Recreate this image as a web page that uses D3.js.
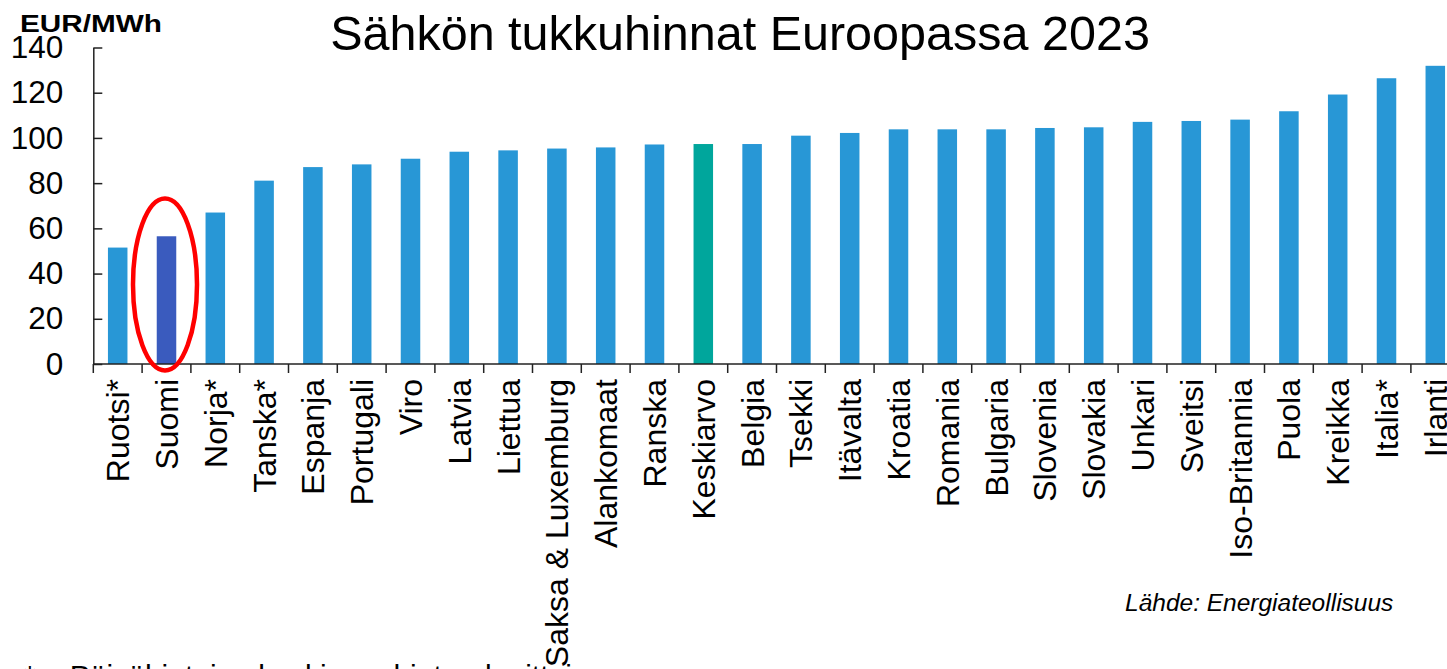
<!DOCTYPE html>
<html>
<head>
<meta charset="utf-8">
<script src="https://cdn.jsdelivr.net/npm/d3@7"></script>
<style>
  html, body { margin: 0; padding: 0; background: #fff; overflow: hidden; }
  svg { display: block; font-family: "Liberation Sans", Arial, sans-serif; }
</style>
</head>
<body>
<svg id="chart" width="1447" height="669"></svg>
<script>
const categories = ["Ruotsi*", "Suomi", "Norja*", "Tanska*", "Espanja", "Portugali", "Viro", "Latvia", "Liettua",
  "Saksa & Luxemburg", "Alankomaat", "Ranska", "Keskiarvo", "Belgia", "Tsekki", "Itävalta", "Kroatia", "Romania",
  "Bulgaria", "Slovenia", "Slovakia", "Unkari", "Sveitsi", "Iso-Britannia", "Puola", "Kreikka", "Italia*", "Irlanti"];
const prices = [51.5, 56.5, 67.0, 81.1, 87.1, 88.3, 90.8, 93.9, 94.5,
  95.3, 95.8, 97.1, 97.3, 97.3, 101.0, 102.2, 103.8, 103.8,
  103.8, 104.4, 104.7, 107.1, 107.5, 108.1, 111.8, 119.2, 126.4, 131.9];
const yTicks = [0, 20, 40, 60, 80, 100, 120, 140];
const highlightCountry = "Suomi";
const averageCategory = "Keskiarvo";
const titleText = "Sähkön tukkuhinnat Euroopassa 2023";
const unitText = "EUR/MWh";
const sourceText = "Lähde: Energiateollisuus";
const footnoteText = "* = Päivähintojen keskiarvo hinta-alueittain";

const svg = d3.select("#chart");
const left = 93.3, step0 = 48.8;
const x = d3.scaleBand()
  .domain(categories)
  .range([left, left + step0 * categories.length])
  .paddingInner(0.6)
  .paddingOuter(0.3);
const y = d3.scaleLinear().domain([0, 140]).range([364, 47.5]);

const colorOf = c => c === highlightCountry ? "#3A5BBE" : (c === averageCategory ? "#00A69C" : "#2897D6");

// bars
svg.append("g").selectAll("rect")
  .data(categories.map((c, i) => ({ c, v: prices[i] })))
  .join("rect")
  .attr("x", d => x(d.c))
  .attr("y", d => y(d.v))
  .attr("width", x.bandwidth())
  .attr("height", d => y(0) - y(d.v))
  .attr("fill", d => colorOf(d.c));

// y axis
const yAxis = svg.append("g")
  .attr("transform", `translate(${left},0)`)
  .call(d3.axisLeft(y).tickValues(yTicks).tickSize(-9).tickSizeOuter(0).tickPadding(30));
yAxis.select(".domain").attr("stroke", "#222").attr("stroke-width", 1.5);
yAxis.selectAll(".tick line").attr("stroke", "#222").attr("stroke-width", 1.5);
yAxis.selectAll(".tick text").attr("font-size", 31.5).attr("fill", "#000")
  .attr("font-family", "Liberation Sans, Arial, sans-serif");

// x axis line and boundary ticks
const step = x.step();
const xEnd = left + step * categories.length;
svg.append("line").attr("x1", left).attr("x2", xEnd).attr("y1", y(0)).attr("y2", y(0))
  .attr("stroke", "#222").attr("stroke-width", 1.5);
const bounds = d3.range(categories.length + 1).map(i => i === 0 ? left : x(categories[i - 1]) - step * 0.3 + step);
svg.append("g").selectAll("line").data(bounds).join("line")
  .attr("x1", d => d).attr("x2", d => d)
  .attr("y1", y(0)).attr("y2", y(0) + 9)
  .attr("stroke", "#222").attr("stroke-width", 1.5);

// x labels
svg.append("g").selectAll("text").data(categories).join("text")
  .attr("transform", d => `translate(${x(d) + x.bandwidth() / 2},379) rotate(-90)`)
  .attr("dy", "0.36em")
  .attr("text-anchor", "end")
  .attr("font-size", 32)
  .attr("fill", "#000")
  .text(d => d);

// highlight ellipse
svg.append("ellipse")
  .attr("cx", x(highlightCountry) + x.bandwidth() / 2 - 1.5)
  .attr("cy", 284.5)
  .attr("rx", 32)
  .attr("ry", 86)
  .attr("fill", "none")
  .attr("stroke", "#FF0000")
  .attr("stroke-width", 4.5);

// title & unit
svg.append("text").attr("x", 740).attr("y", 50).attr("text-anchor", "middle")
  .attr("font-size", 48.5).attr("fill", "#000").text(titleText);
svg.append("text").attr("x", 20).attr("y", 32)
  .attr("font-size", 24).attr("font-weight", "bold").attr("fill", "#000")
  .attr("textLength", 142).attr("lengthAdjust", "spacingAndGlyphs")
  .text(unitText);

// source
svg.append("text").attr("x", 1125).attr("y", 611)
  .attr("font-size", 24.5).attr("font-style", "italic").attr("fill", "#000")
  .text(sourceText);

// footnote (mostly cut off at bottom)
svg.append("text").attr("x", 24).attr("y", 686)
  .attr("font-size", 30).attr("fill", "#000")
  .text(footnoteText);
</script>
</body>
</html>
